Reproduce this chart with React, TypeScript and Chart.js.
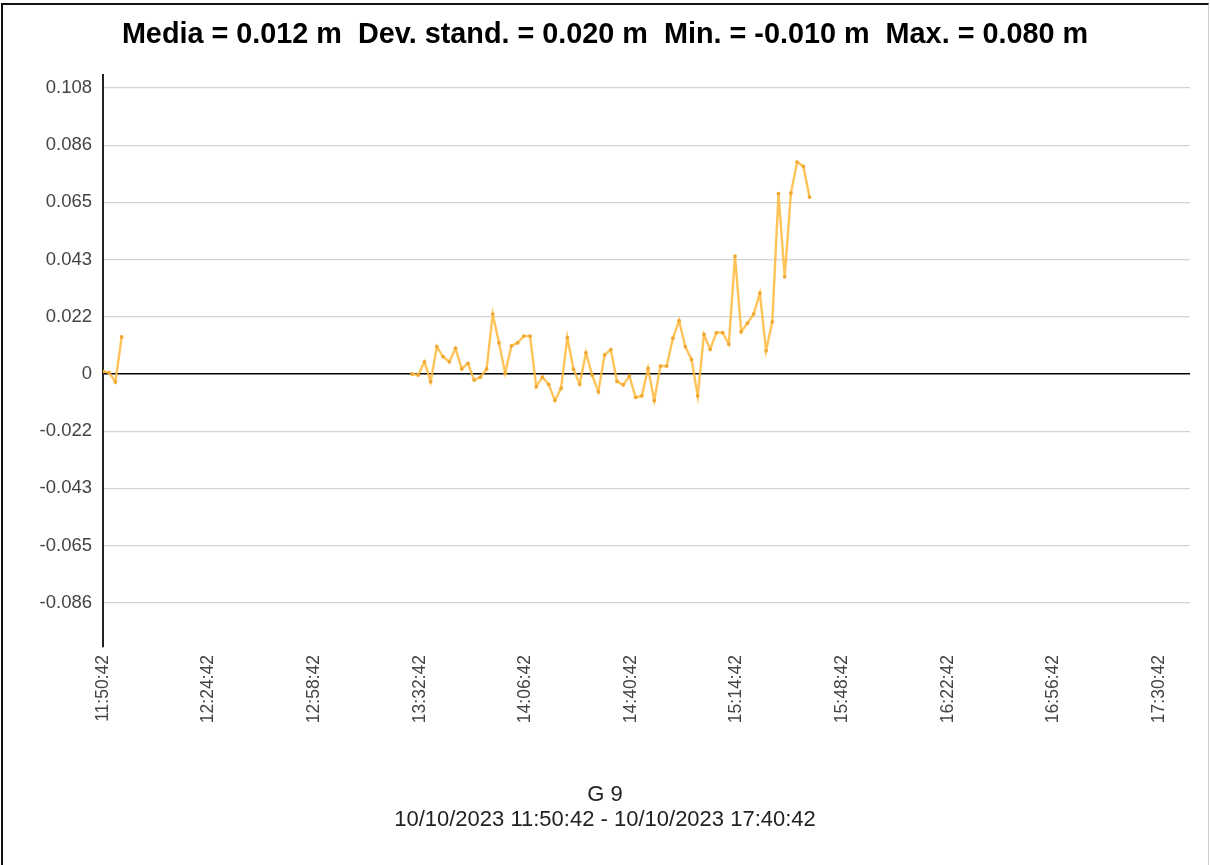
import React, { useEffect, useRef } from "react";
import { Chart, registerables } from "chart.js";

Chart.register(...registerables);

const START_TIME = "11:50:42";
const END_TIME = "17:40:42";

const xTickLabels = [
  "11:50:42", "12:24:42", "12:58:42", "13:32:42", "14:06:42", "14:40:42",
  "15:14:42", "15:48:42", "16:22:42", "16:56:42", "17:30:42",
];

const yMin = -0.1031;
const yMax = 0.1129;
const yTickValues = [-0.0864, -0.0648, -0.0432, -0.0216, 0, 0.0216, 0.0432, 0.0648, 0.0864, 0.108];
const yTickLabels = ["-0.086", "-0.065", "-0.043", "-0.022", "0", "0.022", "0.043", "0.065", "0.086", "0.108"];

// first short burst of readings
const seg1Times = ["11:50:42", "11:52:42", "11:54:42", "11:56:42"];
const seg1Values = [0.001, 0.0005, -0.003, 0.014];

// main block of readings
const seg2Times = [
  "13:30:12", "13:32:12", "13:34:12", "13:36:12", "13:38:12", "13:40:12", "13:42:12", "13:44:12",
  "13:46:12", "13:48:12", "13:50:12", "13:52:12", "13:54:12", "13:56:12", "13:58:12",
  "14:00:12", "14:02:12", "14:04:12", "14:06:12", "14:08:12", "14:10:12", "14:12:12", "14:14:12",
  "14:16:12", "14:18:12", "14:20:12", "14:22:12", "14:24:12", "14:26:12", "14:28:12", "14:30:12",
  "14:32:12", "14:34:12", "14:36:12", "14:38:12", "14:40:12", "14:42:12", "14:44:12", "14:46:12",
  "14:48:12", "14:50:12", "14:52:12", "14:54:12", "14:56:12", "14:58:12",
  "15:00:12", "15:02:12", "15:04:12", "15:06:12", "15:08:12", "15:10:12", "15:12:12", "15:14:12",
  "15:16:12", "15:18:12", "15:20:12", "15:22:12", "15:24:12", "15:26:12", "15:28:12", "15:30:12",
  "15:32:12", "15:34:12", "15:36:12", "15:38:12",
];
const seg2Values = [
  0, -0.0004, 0.0046, -0.0029, 0.0103, 0.0065, 0.0046, 0.0097,
  0.0019, 0.004, -0.0023, -0.0012, 0.0018, 0.0226, 0.0118,
  0.0003, 0.0106, 0.0118, 0.0143, 0.0143, -0.0048, -0.0012, -0.0039,
  -0.01, -0.0054, 0.0137, 0.0018, -0.0038, 0.008, -0.0004, -0.0067,
  0.0072, 0.0092, -0.0028, -0.0041, -0.0008, -0.0088, -0.0083, 0.0021,
  -0.01, 0.003, 0.003, 0.0135, 0.0201, 0.0103,
  0.0055, -0.0083, 0.0149, 0.0093, 0.0156, 0.0156, 0.0113, 0.0445,
  0.0159, 0.0192, 0.0226, 0.0305, 0.0088, 0.0197, 0.0681, 0.0367,
  0.0683, 0.08, 0.0784, 0.0668,
];

const titleText = "Media = 0.012 m  Dev. stand. = 0.020 m  Min. = -0.010 m  Max. = 0.080 m";
const subtitleLines = ["G 9", "10/10/2023 11:50:42 - 10/10/2023 17:40:42"];

function toMinutes(t: string): number {
  const [h, m, s] = t.split(":").map(Number);
  return h * 60 + m + s / 60;
}
const base = toMinutes(START_TIME);
const rel = (t: string) => toMinutes(t) - base;

const LINE_COLOR = "rgba(255, 188, 66, 0.88)";
const POINT_COLOR = "#EFA832";

export default function App() {
  const ref = useRef<HTMLCanvasElement | null>(null);

  useEffect(() => {
    if (!ref.current) return;
    const mk = (times: string[], vals: number[]) => times.map((t, i) => ({ x: rel(t), y: vals[i] }));
    const dsStyle = {
      borderColor: LINE_COLOR,
      borderWidth: 2.4,
      pointRadius: 1.9,
      pointBorderWidth: 0,
      pointBackgroundColor: POINT_COLOR,
      tension: 0,
      fill: false,
    };
    const chart = new Chart(ref.current, {
      type: "line",
      data: {
        datasets: [
          { data: mk(seg1Times, seg1Values), ...dsStyle },
          { data: mk(seg2Times, seg2Values), ...dsStyle },
        ],
      },
      options: {
        responsive: false,
        animation: false,
        devicePixelRatio: 1,
        layout: { padding: 0 },
        plugins: {
          legend: { display: false },
          tooltip: { enabled: false },
          title: {
            display: true,
            text: titleText,
            color: "#000",
            font: { family: "'Liberation Sans', Arial, sans-serif", size: 28.8, weight: "bold", lineHeight: 1.2 },
            padding: { top: 18, bottom: 22.4 },
          },
          subtitle: {
            display: true,
            position: "bottom",
            text: subtitleLines,
            color: "#222",
            font: { family: "'Liberation Sans', Arial, sans-serif", size: 22, lineHeight: 1.14 },
            padding: { top: 0, bottom: 32.4 },
          },
        },
        scales: {
          x: {
            type: "linear",
            min: 0,
            max: rel(END_TIME),
            grid: { display: false, drawTicks: false },
            border: { display: false },
            afterFit: (scale: any) => {
              scale.height = 135.4;
            },
            afterBuildTicks: (scale: any) => {
              scale.ticks = xTickLabels.map((l) => ({ value: rel(l) }));
            },
            ticks: {
              autoSkip: false,
              minRotation: 90,
              maxRotation: 90,
              padding: 8,
              color: "#444",
              font: { family: "'Liberation Sans', Arial, sans-serif", size: 17.5 },
              callback: (_v: any, i: number) => xTickLabels[i],
            },
          },
          y: {
            type: "linear",
            min: yMin,
            max: yMax,
            afterFit: (scale: any) => {
              scale.width = 103;
            },
            afterBuildTicks: (scale: any) => {
              scale.ticks = yTickValues.map((v) => ({ value: v }));
            },
            grid: {
              drawTicks: false,
              color: (ctx: any) => (ctx.tick && ctx.tick.value === 0 ? "#000" : "#d4d4d4"),
              lineWidth: (ctx: any) => (ctx.tick && ctx.tick.value === 0 ? 1.6 : 1.2),
            },
            border: { display: true, color: "#222", width: 2 },
            ticks: {
              padding: 11,
              color: "#444",
              font: { family: "'Liberation Sans', Arial, sans-serif", size: 18.5 },
              callback: (_v: any, i: number) => yTickLabels[i],
            },
          },
          yRightSpacer: {
            type: "linear",
            position: "right",
            display: true,
            grid: { display: false, drawTicks: false },
            border: { display: false },
            ticks: { display: false },
            afterFit: (scale: any) => {
              scale.width = 20;
            },
          },
        },
      },
    } as any);
    return () => chart.destroy();
  }, []);

  return (
    <div style={{ position: "fixed", left: 0, top: 0, width: 1210, height: 865, background: "#fff", overflow: "hidden" }}>
      <div
        style={{
          position: "absolute",
          left: 1,
          top: 3,
          width: 1205,
          height: 870,
          borderLeft: "2px solid #111",
          borderTop: "2px solid #111",
          borderRight: "1px solid #cfcfcf",
        }}
      />
      <canvas ref={ref} width={1210} height={865} style={{ position: "absolute", left: 0, top: 0, width: 1210, height: 865 }} />
    </div>
  );
}
